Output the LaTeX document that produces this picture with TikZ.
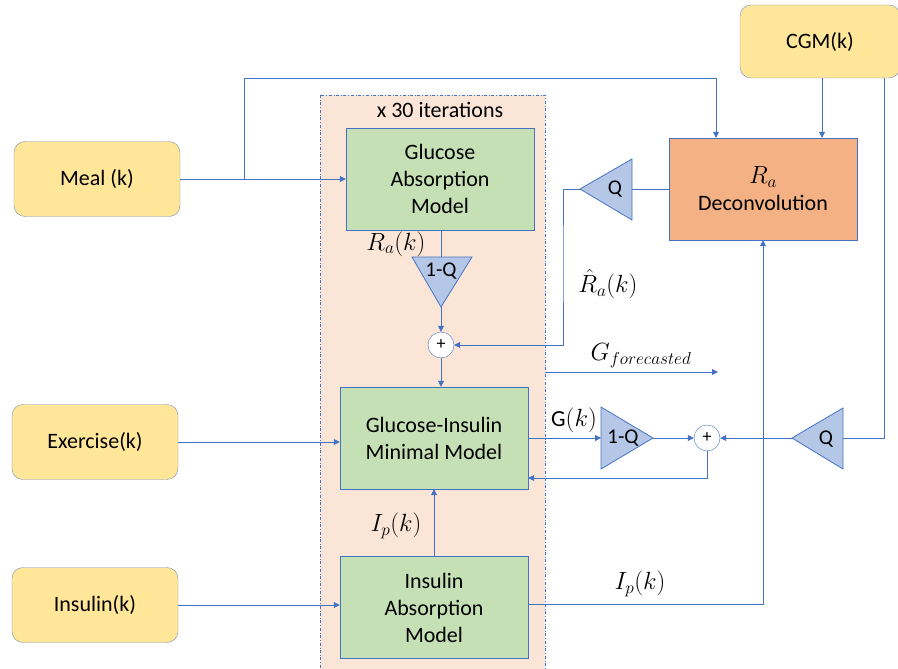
\documentclass[tikz,border=0pt]{standalone}
\usepackage{fontspec}
\setmainfont{Carlito}
\usetikzlibrary{arrows.meta}
\definecolor{linec}{HTML}{4472C4}
\definecolor{peach}{HTML}{FBE5D6}
\definecolor{modelg}{HTML}{C5E0B4}
\definecolor{deconv}{HTML}{F4B183}
\definecolor{inputy}{HTML}{FFE699}
\definecolor{gainb}{HTML}{B4C7E7}
\definecolor{inputb}{HTML}{7C8FB5}
\tikzset{
  model/.style={draw=linec, fill=modelg, minimum width=188pt, minimum height=102pt,
    align=center, font=\fontsize{22}{27}\selectfont, inner sep=0pt},
  inbox/.style={draw=inputb, fill=inputy, rounded corners=11pt, minimum width=166pt,
    minimum height=75pt, font=\fontsize{22}{26}\selectfont, inner sep=0pt},
  gain/.style={draw=linec, fill=gainb, line width=0.8pt, line join=miter},
  gaintxt/.style={font=\fontsize{21}{24}\selectfont, inner sep=0pt},
  summer/.style={draw=linec, fill=white, circle, minimum size=26pt, inner sep=0pt,
    font=\fontsize{18}{20}\selectfont},
  lbl/.style={font=\fontsize{23}{26}\selectfont},
  sig/.style={draw=linec, line width=0.8pt},
  arr/.style={sig, -{Triangle[width=6pt,length=6pt]}}
}
\begin{document}
\begin{tikzpicture}[x=1pt,y=-1pt]
	\useasboundingbox (0,0) rectangle (898,669);
	% iteration frame
	\draw[linec, fill=peach, dash dot, line width=0.6pt] (320,95) rectangle (545,675);
	\node[font=\fontsize{22}{26}\selectfont] (iter) at (440,110) {x 30 iterations};
	% blocks
	\node[model] (gam) at (440,179) {Glucose\\Absorption\\Model};
	\node[model] (gim) at (434,438) {Glucose-Insulin\\Minimal Model};
	\node[model] (iam) at (434,607.5) {Insulin\\Absorption\\Model};
	\node[model, fill=deconv] (dec) at (763,189) {{\fontsize{27}{27}\selectfont$R_a$}\\Deconvolution};
	\node[inbox] (meal) at (97,179) {Meal (k)};
	\node[inbox] (exer) at (95,442) {Exercise(k)};
	\node[inbox] (ins) at (95,605) {Insulin(k)};
	\node[inbox, minimum width=160pt, minimum height=73pt] (cgm) at (820,41.5) {CGM(k)};
	% gains
	\draw[gain] (412,257) -- (472,257) -- (441,307) -- cycle;
	\coordinate (g1in) at (441,257);
	\coordinate (g1out) at (441,307);
	\node[gaintxt] (g1) at (441,271) {1-Q};
	\draw[gain] (632,159) -- (632,220) -- (580,189) -- cycle;
	\coordinate (q1in) at (632,189);
	\coordinate (q1out) at (580,189);
	\node[gaintxt] (q1) at (615,189) {Q};
	\draw[gain] (601,407) -- (601,469) -- (653,438) -- cycle;
	\coordinate (g2in) at (601,438);
	\coordinate (g2out) at (653,438);
	\node[gaintxt] (g2) at (623,438) {1-Q};
	\draw[gain] (843,408) -- (843,469) -- (792,438) -- cycle;
	\coordinate (q2in) at (843,438);
	\coordinate (q2out) at (792,438);
	\node[gaintxt] (q2) at (826,439) {Q};
	% summers
	\node[summer] (s1) at (441,345) {+};
	\node[summer] (s2) at (707,438) {+};
	% labels
	\node[lbl] (ra) at (396,244) {$R_a(k)$};
	\node[lbl] (rahat) at (608,284) {$\hat{R}_a(k)$};
	\node[lbl] (gfc) at (641,356) {$G_{forecasted}$};
	\node[lbl] (gk) at (574,420) {G$(k)$};
	\node[lbl] (ip1) at (396,526) {$I_p(k)$};
	\node[lbl] (ip2) at (640,584) {$I_p(k)$};
	\coordinate (split) at (244,179);
	\coordinate (gout) at (718,372);
	% connectors
	\draw[arr] (meal.east) -- (gam.west);
	\draw[arr] (split) |- (244,78) -| ([xshift=-47pt]dec.north);
	\draw[arr] ([xshift=2pt]cgm.south) -- ([xshift=59pt]dec.north);
	\draw[sig] ([xshift=64pt]cgm.south) |- (q2in);
	\draw[arr] (q2out) -- (s2.east);
	\draw[arr] (g2out) -- (s2.west);
	\draw[arr] (gim.east) -- (g2in);
	\draw[arr] (s2.south) |- ([yshift=-40pt]gim.east);
	\draw[sig] (dec.west) -- (q1in);
	\draw[arr] (q1out) -| (563,260) |- (s1.east);
	\draw[sig] (gam.south -| g1in) -- (g1in);
	\draw[arr] (g1out) -- (s1.north);
	\draw[arr] (s1.south) -- ([xshift=7pt]gim.north);
	\draw[arr] (545,372) -- (gout);
	\draw[arr] (exer.east) -- (gim.west |- exer.east);
	\draw[arr] (ins.east) -- (iam.west |- ins.east);
	\draw[arr] (iam.north) -- (gim.south);
	\draw[arr] ([yshift=3.5pt]iam.east) -| (dec.south);
\end{tikzpicture}
\end{document}
